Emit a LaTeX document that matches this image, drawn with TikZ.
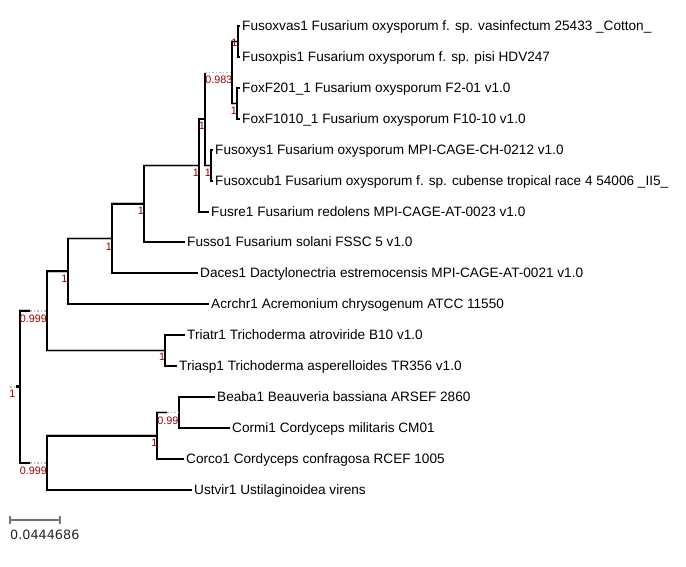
\documentclass[tikz,border=0pt]{standalone}
\usepackage{fontspec}
\setmainfont{Liberation Sans}
\newfontfamily\dvsfont{DejaVu Sans}
\definecolor{supred}{RGB}{150,0,0}
\begin{document}
\begin{tikzpicture}[x=1pt,y=-1pt,
  halo/.style={draw=gray!50,line width=2.8pt},
  blk/.style={draw=black,line width=1.7pt},
  dotbr/.style={draw=gray!55,line width=1.6pt,dash pattern=on 1.5pt off 2pt},
  leaf/.style={anchor=west,inner xsep=2pt,inner ysep=0pt,text height=9.6pt,text depth=0pt,font=\fontsize{13.6}{14}\selectfont},
  sup/.style={anchor=north east,inner sep=0pt,text=supred,font=\fontsize{10.8}{11}\selectfont},
  scalebar/.style={draw=black!55,line width=1.5pt}]
\useasboundingbox (0,0) rectangle (686,566);
% internal nodes
\coordinate (I) at (238,41.5);
\coordinate (J) at (237,103.5);
\coordinate (H) at (232,72.5);
\coordinate (G) at (211,165.5);
\coordinate (F) at (205,119);
\coordinate (E) at (199,165.5);
\coordinate (D) at (144,203.75);
\coordinate (C) at (112,238.4);
\coordinate (B) at (68,271.2);
\coordinate (K) at (165,350.5);
\coordinate (A) at (47,310.85);
\coordinate (N) at (179,412.5);
\coordinate (M) at (157,435.75);
\coordinate (L) at (47,462.9);
\coordinate (R) at (20,386.9);
\coordinate (Ad) at (30,310.85);
\coordinate (Ld) at (30,462.9);
\coordinate (Nd) at (167,412.5);
\coordinate (R0) at (10,386.9);
% leaves
\node[leaf] (vas) at (240,26) {Fusoxvas1 Fusarium oxysporum f. sp. vasinfectum 25433 \_Cotton\_};
\node[leaf] (pis) at (240,57) {Fusoxpis1 Fusarium oxysporum f. sp. pisi HDV247};
\node[leaf] (f201) at (240,88) {FoxF201\_1 Fusarium oxysporum F2-01 v1.0};
\node[leaf] (f1010) at (240,119) {FoxF1010\_1 Fusarium oxysporum F10-10 v1.0};
\node[leaf] (oxys) at (213,150) {Fusoxys1 Fusarium oxysporum MPI-CAGE-CH-0212 v1.0};
\node[leaf] (oxcub) at (213,181) {Fusoxcub1 Fusarium oxysporum f. sp. cubense tropical race 4 54006 \_II5\_};
\node[leaf] (fusre) at (209,212) {Fusre1 Fusarium redolens MPI-CAGE-AT-0023 v1.0};
\node[leaf] (fusso) at (185,242) {Fusso1 Fusarium solani FSSC 5 v1.0};
\node[leaf] (daces) at (198,273) {Daces1 Dactylonectria estremocensis MPI-CAGE-AT-0021 v1.0};
\node[leaf] (acr) at (209,304) {Acrchr1 Acremonium chrysogenum ATCC 11550};
\node[leaf] (triatr) at (185,335) {Triatr1 Trichoderma atroviride B10 v1.0};
\node[leaf] (triasp) at (177,366) {Triasp1 Trichoderma asperelloides TR356 v1.0};
\node[leaf] (beaba) at (215,397) {Beaba1 Beauveria bassiana ARSEF 2860};
\node[leaf] (cormi) at (230,428) {Cormi1 Cordyceps militaris CM01};
\node[leaf] (corco) at (184,459) {Corco1 Cordyceps confragosa RCEF 1005};
\node[leaf] (ustvir) at (192,490) {Ustvir1 Ustilaginoidea virens};
% branches: halo pass then black pass
\foreach \st in {halo,blk}{
  \draw[\st] (I) |- (vas.west);
  \draw[\st] (I) |- (pis.west);
  \draw[\st] (J) |- (f201.west);
  \draw[\st] (J) |- (f1010.west);
  \draw[\st] (H) |- (I);
  \draw[\st] (H) |- (J);
  \draw[\st] (F) -- (F |- H);
  \draw[\st] (F) |- (G);
  \draw[\st] (G) |- (oxys.west);
  \draw[\st] (G) |- (oxcub.west);
  \draw[\st] (E) |- (F);
  \draw[\st] (E) |- (fusre.west);
  \draw[\st] (D) |- (E);
  \draw[\st] (D) |- (fusso.west);
  \draw[\st] (C) |- (D);
  \draw[\st] (C) |- (daces.west);
  \draw[\st] (B) |- (C);
  \draw[\st] (B) |- (acr.west);
  \draw[\st] (K) |- (triatr.west);
  \draw[\st] (K) |- (triasp.west);
  \draw[\st] (A) |- (B);
  \draw[\st] (A) |- (K);
  \draw[\st] (N) |- (beaba.west);
  \draw[\st] (N) |- (cormi.west);
  \draw[\st] (M) |- (Nd);
  \draw[\st] (M) |- (corco.west);
  \draw[\st] (L) |- (M);
  \draw[\st] (L) |- (ustvir.west);
  \draw[\st] (R) |- (Ad);
  \draw[\st] (R) |- (Ld);
}
% dotted parts of branches
\draw[dotbr] (F |- H) -- (H);
\draw[dotbr] (Nd) -- (N);
\draw[dotbr] (Ad) -- (A);
\draw[dotbr] (Ld) -- (L);
\node[fill=black,inner sep=0pt,minimum size=3pt] (rdot) at (17,386.9) {};
\draw[dotbr] (R0) -- (rdot.west);
% support values
\node[sup] (lI) at (237.5,39.3) {1};
\node[sup] (lJ) at (237,106.7) {1};
\node[sup] (lH) at (232.5,75.7) {0.983};
\node[sup] (lG) at (211,168.5) {1};
\node[sup] (lF) at (205,122) {1};
\node[sup] (lE) at (199,168.5) {1};
\node[sup] (lD) at (144,207) {1};
\node[sup] (lC) at (112,242.5) {1};
\node[sup] (lB) at (67.5,275) {1};
\node[sup] (lK) at (165.3,353) {1};
\node[sup] (lA) at (47,315) {0.999};
\node[sup] (lN) at (178.7,416.5) {0.99};
\node[sup] (lM) at (157.5,439.3) {1};
\node[sup] (lL) at (47,467) {0.999};
\node[sup] (lR) at (15.5,390) {1};
% scale bar
\coordinate (s1) at (10,520);
\coordinate (s2) at (60,520);
\draw[scalebar] (s1) -- (s2);
\draw[scalebar] ([yshift=4pt]s1) -- ([yshift=-4pt]s1);
\draw[scalebar] ([yshift=4pt]s2) -- ([yshift=-4pt]s2);
\node[anchor=north west,inner sep=0pt,text=black!85,font=\dvsfont\fontsize{12.8}{13}\selectfont] (sl) at (10,530) {0.0444686};
\end{tikzpicture}
\end{document}
